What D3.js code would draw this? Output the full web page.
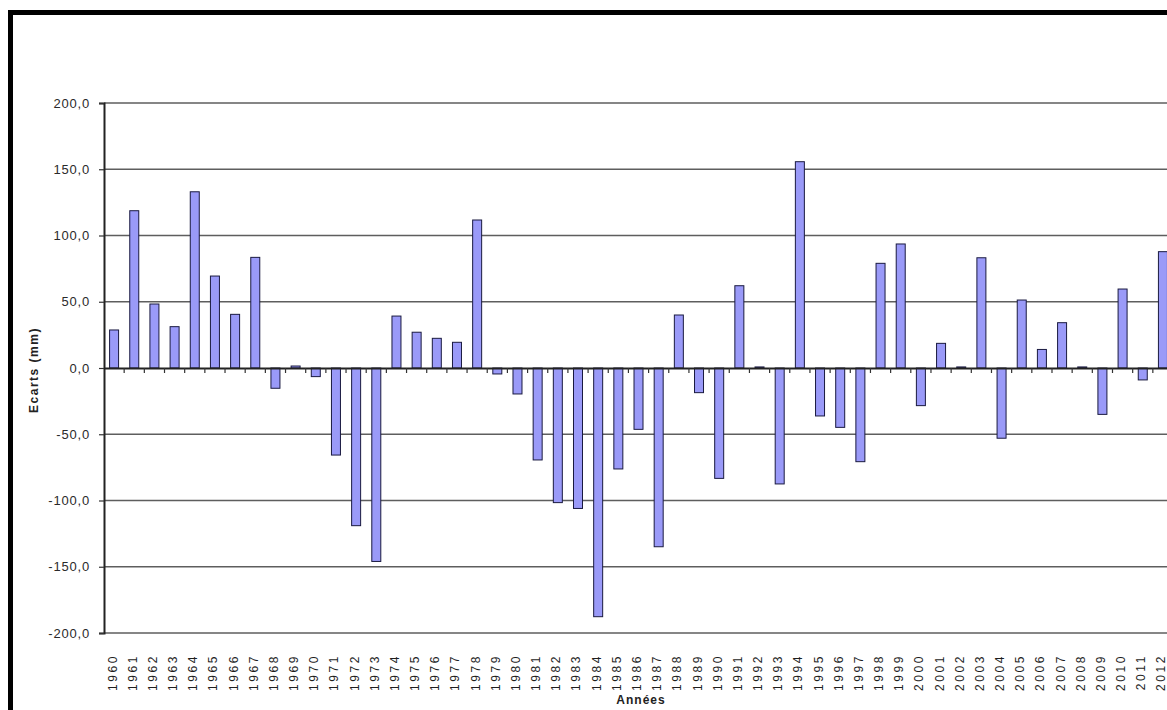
<!DOCTYPE html>
<html>
<head>
<meta charset="utf-8">
<script src="https://cdn.jsdelivr.net/npm/d3@7"></script>
<style>
  html, body { margin: 0; padding: 0; background: #fff; overflow: hidden; }
  svg { display: block; }
</style>
</head>
<body>
<svg id="chart" width="1167" height="710"></svg>
<script>
const years = ["1960","1961","1962","1963","1964","1965","1966","1967","1968","1969",
  "1970","1971","1972","1973","1974","1975","1976","1977","1978","1979",
  "1980","1981","1982","1983","1984","1985","1986","1987","1988","1989",
  "1990","1991","1992","1993","1994","1995","1996","1997","1998","1999",
  "2000","2001","2002","2003","2004","2005","2006","2007","2008","2009",
  "2010","2011","2012"];
const ecarts = [28.7, 118.7, 48.3, 31.2, 133.0, 69.4, 40.5, 83.5, -15.3, 1.5,
  -6.5, -65.7, -119.0, -146.0, 39.2, 27.0, 22.4, 19.4, 111.7, -4.5,
  -19.6, -69.4, -101.6, -106.0, -187.7, -76.2, -46.3, -134.9, 40.0, -18.6,
  -83.3, 62.1, 0.8, -87.5, 155.7, -36.2, -44.8, -70.7, 79.0, 93.6,
  -28.4, 18.6, 0.8, 83.2, -53.0, 51.3, 14.0, 34.2, 0.8, -35.0,
  59.6, -9.0, 87.8];
const yTicks = [-200, -150, -100, -50, 0, 50, 100, 150, 200];
const yTitle = "Ecarts (mm)";
const xTitle = "Années";

const svg = d3.select("#chart");
const plotLeft = 104, plotTop = 103, plotBottom = 633;
const band = 20.17;
const plotRight = plotLeft + band * years.length;

const x = d3.scaleBand().domain(years).range([plotLeft, plotRight]).paddingInner(0).paddingOuter(0);
const y = d3.scaleLinear().domain([-200, 200]).range([plotBottom, plotTop]);
const fmt = v => d3.format(".1f")(v).replace(".", ",").replace("−", "-");

// frame
svg.append("rect").attr("x", 8).attr("y", 10).attr("width", 1167).attr("height", 5).attr("fill", "#000");
svg.append("rect").attr("x", 8).attr("y", 10).attr("width", 5).attr("height", 710).attr("fill", "#000");

// gridlines
svg.append("g").selectAll("line").data(yTicks.filter(d => d !== 0)).join("line")
  .attr("x1", plotLeft).attr("x2", plotRight)
  .attr("y1", d => y(d)).attr("y2", d => y(d))
  .attr("stroke", "#5e5e5e").attr("stroke-width", 1.7);

// y axis
const yAxis = d3.axisLeft(y).tickValues(yTicks).tickSize(5).tickPadding(9).tickFormat(fmt);
const gy = svg.append("g").attr("transform", `translate(${plotLeft},0)`).call(yAxis);
gy.select(".domain").attr("stroke", "#222").attr("stroke-width", 2);
gy.selectAll(".tick line").attr("stroke", "#333").attr("stroke-width", 1.2);
gy.selectAll(".tick text")
  .attr("font-family", "Liberation Sans, Arial, sans-serif")
  .attr("font-size", 13).attr("letter-spacing", "0.8px").attr("fill", "#2a2a2a");

// bars
const barW = 9;
svg.append("g").selectAll("rect").data(years).join("rect")
  .attr("x", (d) => x(d) + x.bandwidth() / 2 - barW / 2)
  .attr("y", (d, i) => y(Math.max(0, ecarts[i])))
  .attr("width", barW)
  .attr("height", (d, i) => Math.max(1, Math.abs(y(ecarts[i]) - y(0))))
  .attr("fill", "#9a9af8")
  .attr("stroke", "#1a1a40").attr("stroke-width", 1);

// zero axis with ticks
const xAxis = d3.axisBottom(x).tickSize(0).tickFormat("");
const gx = svg.append("g").attr("transform", `translate(0,${y(0)})`).call(xAxis);
gx.select(".domain").attr("stroke", "#222").attr("stroke-width", 1.8);
svg.append("g").selectAll("line").data(years.slice(1)).join("line")
  .attr("x1", d => x(d)).attr("x2", d => x(d))
  .attr("y1", y(0)).attr("y2", y(0) + 5)
  .attr("stroke", "#333").attr("stroke-width", 1.2);

// x labels
svg.append("g").selectAll("text").data(years).join("text")
  .attr("transform", d => `translate(${x(d) + x.bandwidth() / 2 + 2.5},654) rotate(-90)`)
  .attr("text-anchor", "end")
  .attr("font-family", "Liberation Sans, Arial, sans-serif")
  .attr("font-size", 12).attr("letter-spacing", "2.6px").attr("fill", "#1e1e1e")
  .text(d => d);

// axis titles
svg.append("text")
  .attr("transform", `translate(38,370) rotate(-90)`)
  .attr("text-anchor", "middle")
  .attr("font-family", "Liberation Sans, Arial, sans-serif")
  .attr("font-size", 12).attr("font-weight", "bold").attr("letter-spacing", "1.5px").attr("fill", "#222")
  .text(yTitle);
svg.append("text")
  .attr("x", 641).attr("y", 704)
  .attr("text-anchor", "middle")
  .attr("font-family", "Liberation Sans, Arial, sans-serif")
  .attr("font-size", 12).attr("font-weight", "bold").attr("letter-spacing", "1px").attr("fill", "#222")
  .text(xTitle);
</script>
</body>
</html>
